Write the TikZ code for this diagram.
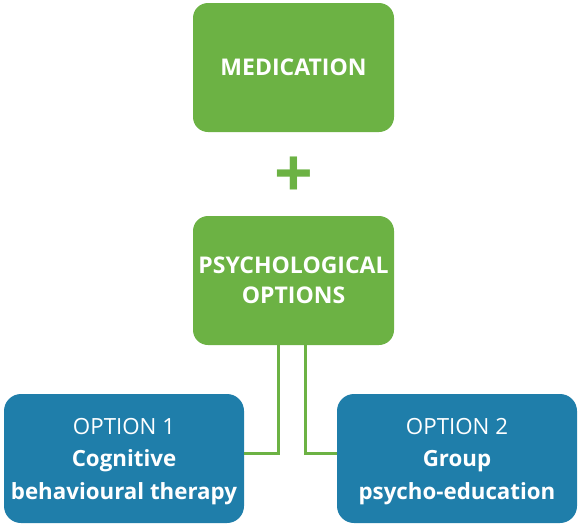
\documentclass[tikz,border=0pt]{standalone}
\usepackage{fontspec}
\setmainfont{Open Sans}
\usetikzlibrary{positioning}

\definecolor{leafgreen}{RGB}{108,178,68}
\definecolor{seablue}{RGB}{31,126,170}

\tikzset{
  greenbox/.style={fill=leafgreen, rounded corners=15pt, minimum width=201pt,
    minimum height=129pt, text=white, align=center,
    font=\fontsize{23}{30}\selectfont\bfseries},
  bluebox/.style={fill=seablue, rounded corners=17pt, minimum width=240pt,
    minimum height=129pt, text=white, align=center, text depth=0pt,
    font=\fontsize{22.3}{32.5}\selectfont},
  link/.style={draw=leafgreen, line width=3pt}
}

\begin{document}
\begin{tikzpicture}[x=1pt, y=-1pt]
    \useasboundingbox (0,0) rectangle (581,528);

    % Top: medication plus psychological options
    \node[greenbox] (med) at (293.5, 67.5) {MEDICATION};
    \node[text=leafgreen, font=\fontsize{68}{68}\selectfont\bfseries] (plus) at (293.5, 177) {+};
    \node[greenbox, text depth=0pt] (psych) at (293.5, 280.5) {PSYCHOLOGICAL\\OPTIONS};

    % Bottom: the two options
    \node[bluebox] (opt1) at (124, 458.5) {OPTION 1\\\textbf{Cognitive}\\\textbf{behavioural therapy}};
    \node[bluebox] (opt2) at (457, 458.5) {OPTION 2\\\textbf{Group}\\\textbf{psycho-education}};

    % Connectors
    \draw[link] ([xshift=-15.5pt]psych.south) |- ([yshift=5.5pt]opt1.east);
    \draw[link] ([xshift=11.5pt]psych.south) |- ([yshift=5.5pt]opt2.west);
\end{tikzpicture}
\end{document}
